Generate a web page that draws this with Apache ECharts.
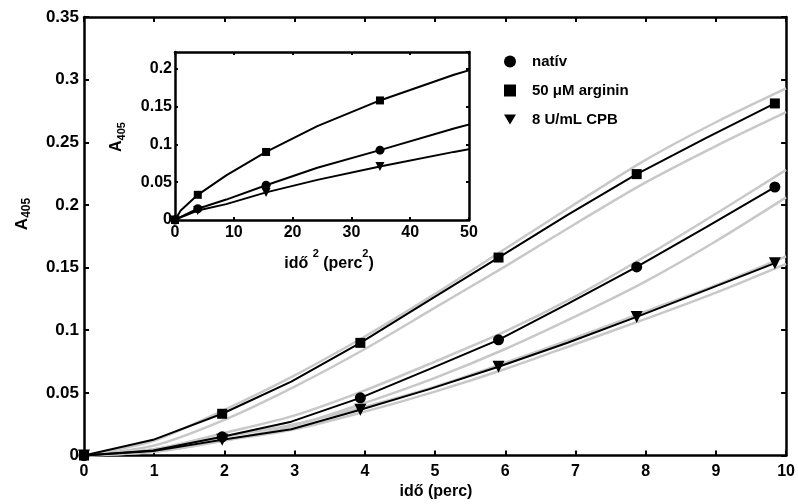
<!DOCTYPE html>
<html><head><meta charset="utf-8">
<script src="https://cdn.jsdelivr.net/npm/echarts@6/dist/echarts.min.js"></script>
<style>html,body{margin:0;padding:0;background:#fff}#c{width:798px;height:504px}</style>
</head><body><div id="c"></div>
<script>
// measurement times (min)
const times = [0, 0.984, 1.968, 2.952, 3.936, 4.92, 5.904, 6.888, 7.872, 8.856, 9.84];
const nativ = [0, 0.004, 0.0149, 0.027, 0.046, 0.069, 0.0923, 0.121, 0.1505, 0.182, 0.2143];
const arginin = [0, 0.0125, 0.0333, 0.059, 0.0899, 0.124, 0.158, 0.192, 0.2246, 0.2533, 0.281];
const cpb = [0, 0.0035, 0.0125, 0.021, 0.0365, 0.053, 0.0708, 0.09, 0.1106, 0.132, 0.1535];
// grey confidence curves
const bandX = [0, 1, 2, 3, 4, 5, 6, 7, 8, 9, 10];
const argininUpper = [0, 0.012, 0.0365, 0.064, 0.095, 0.129, 0.165, 0.201, 0.236, 0.266, 0.293];
const argininLower = [0, 0.008, 0.0285, 0.055, 0.085, 0.118, 0.151, 0.185, 0.218, 0.247, 0.274];
const nativUpper = [0, 0.005, 0.018, 0.032, 0.052, 0.075, 0.099, 0.127, 0.159, 0.193, 0.228];
const nativLower = [0, 0.003, 0.012, 0.024, 0.042, 0.062, 0.085, 0.111, 0.139, 0.171, 0.206];
const cpbUpper = [0, 0.005, 0.015, 0.025, 0.039, 0.055, 0.074, 0.094, 0.115, 0.136, 0.159];
const cpbLower = [0, 0.003, 0.012, 0.021, 0.035, 0.051, 0.069, 0.089, 0.109, 0.130, 0.153];
const seriesNames = ['natív', '50 μM arginin', '8 U/mL CPB'];

const FONT = "'Liberation Sans', Arial, sans-serif";
const triDown = 'path://M0,0 L20,0 L10,17 Z';
const symbols = ['circle', 'rect', triDown];
const mainSizes = [11, 10, 12];
const insetSizes = [9, 8, 9];
const values = [nativ, arginin, cpb];
const bands = [[nativUpper, nativLower], [argininUpper, argininLower], [cpbUpper, cpbLower]];

function markedData(xs, ys, sq) {
  return xs.map((t, i) => {
    const x = sq ? t * t : t;
    return i % 2 === 0 ? { value: [x, ys[i]] } : { value: [x, ys[i]], symbol: 'none' };
  });
}

const series = [];
bands.forEach(pair => pair.forEach(b => {
  series.push({
    type: 'line', xAxisIndex: 0, yAxisIndex: 0, silent: true,
    data: bandX.map((x, i) => [x, b[i]]), symbol: 'none', smooth: 0.3,
    lineStyle: { color: '#c8c8c8', width: 2.5 }, z: 1
  });
}));
values.forEach((v, k) => {
  series.push({
    name: seriesNames[k], type: 'line', xAxisIndex: 0, yAxisIndex: 0,
    data: markedData(times, v, false), symbol: symbols[k], symbolSize: mainSizes[k],
    showAllSymbol: true, lineStyle: { color: '#000', width: 2 },
    itemStyle: { color: '#000' }, z: 3
  });
  series.push({
    type: 'line', xAxisIndex: 2, yAxisIndex: 2, clip: true,
    data: markedData(times, v, true), symbol: symbols[k], symbolSize: insetSizes[k],
    showAllSymbol: true, lineStyle: { color: '#000', width: 2 },
    itemStyle: { color: '#000' }, z: 3
  });
});

const axLine = { show: true, onZero: false, lineStyle: { color: '#000', width: 2.5 } };
const lab = (size) => ({ color: '#000', fontWeight: 'bold', fontSize: size, fontFamily: FONT });
const tick = (len) => ({ inside: true, length: len, lineStyle: { width: 2, color: '#000' } });

const option = {
  animation: false,
  backgroundColor: '#fff',
  grid: [
    { left: 84, right: 10, top: 17, bottom: 48.5 },
    { left: 175, right: 329, top: 52, bottom: 284 }
  ],
  xAxis: [
    { gridIndex: 0, type: 'value', position: 'bottom', min: 0, max: 10, interval: 1,
      axisLine: axLine, axisTick: tick(5),
      axisLabel: Object.assign(lab(16), { margin: 8 }), splitLine: { show: false } },
    { gridIndex: 0, type: 'value', position: 'top', min: 0, max: 10, interval: 1,
      axisLine: axLine, axisTick: tick(5),
      axisLabel: { show: false }, splitLine: { show: false } },
    { gridIndex: 1, type: 'value', position: 'bottom', min: 0, max: 50, interval: 10,
      axisLine: axLine, axisTick: tick(3),
      axisLabel: Object.assign(lab(16), { margin: 5 }), splitLine: { show: false } },
    { gridIndex: 1, type: 'value', position: 'top', min: 0, max: 50, interval: 10,
      axisLine: axLine, axisTick: tick(3),
      axisLabel: { show: false }, splitLine: { show: false } }
  ],
  yAxis: [
    { gridIndex: 0, type: 'value', position: 'left', min: 0, max: 0.35, interval: 0.05,
      axisLine: axLine, axisTick: tick(5),
      axisLabel: Object.assign(lab(17), { margin: 5 }), splitLine: { show: false } },
    { gridIndex: 0, type: 'value', position: 'right', min: 0, max: 0.35, interval: 0.05,
      axisLine: axLine, axisTick: tick(5),
      axisLabel: { show: false }, splitLine: { show: false } },
    { gridIndex: 1, type: 'value', position: 'left', min: 0, max: 0.222, interval: 0.05,
      axisLine: axLine, axisTick: tick(3),
      axisLabel: Object.assign(lab(16), { margin: 3, showMaxLabel: false }), splitLine: { show: false } },
    { gridIndex: 1, type: 'value', position: 'right', min: 0, max: 0.222, interval: 0.05,
      axisLine: axLine, axisTick: tick(3),
      axisLabel: { show: false }, splitLine: { show: false } }
  ],
  legend: {
    orient: 'vertical', left: 499, top: 49, itemWidth: 12, itemHeight: 12, itemGap: 14,
    data: seriesNames.map((n, k) => ({ name: n, icon: symbols[k] })),
    textStyle: { color: '#000', fontWeight: 'bold', fontSize: 15, fontFamily: FONT, padding: [0, 0, 0, 11] },
    itemStyle: { color: '#000' }, selectedMode: false
  },
  graphic: [
    { type: 'text', x: 22, y: 214, rotation: Math.PI / 2,
      style: { text: '{a|A}{s|405}', textAlign: 'center', textVerticalAlign: 'middle',
        rich: { a: { fontSize: 17, fontWeight: 'bold', fontFamily: FONT, fill: '#000' },
                s: { fontSize: 12, fontWeight: 'bold', fontFamily: FONT, fill: '#000', verticalAlign: 'bottom', padding: [9, 0, 0, 0] } } } },
    { type: 'text', x: 117, y: 137, rotation: Math.PI / 2,
      style: { text: '{a|A}{s|405}', textAlign: 'center', textVerticalAlign: 'middle',
        rich: { a: { fontSize: 16, fontWeight: 'bold', fontFamily: FONT, fill: '#000' },
                s: { fontSize: 11, fontWeight: 'bold', fontFamily: FONT, fill: '#000', verticalAlign: 'bottom', padding: [9, 0, 0, 0] } } } },
    { type: 'text', x: 436, y: 492,
      style: { text: 'idő (perc)', textAlign: 'center', textVerticalAlign: 'middle',
        fontSize: 16, fontWeight: 'bold', fontFamily: FONT, fill: '#000' } },
    { type: 'text', x: 329, y: 260,
      style: { text: '{a|idő }{p|2}{a| (perc}{p|2}{a|)}', textAlign: 'center', textVerticalAlign: 'middle',
        rich: { a: { fontSize: 16, fontWeight: 'bold', fontFamily: FONT, fill: '#000', verticalAlign: 'bottom', padding: [7, 0, 0, 0] },
                p: { fontSize: 11, fontWeight: 'bold', fontFamily: FONT, fill: '#000', verticalAlign: 'top' } } } }
  ],
  series: series
};
const chart = echarts.init(document.getElementById('c'), null, { renderer: 'canvas' });
chart.setOption(option);
</script>
</body></html>
